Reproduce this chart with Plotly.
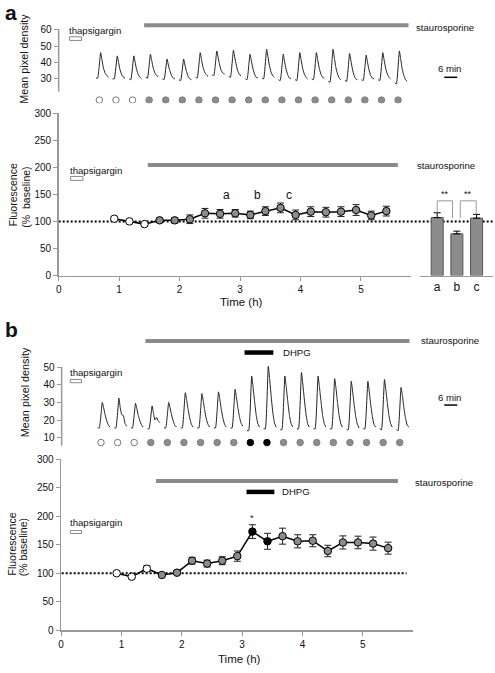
import plotly.graph_objects as go

W, H = 495, 673
def X(px): return px / W
def Y(py): return 1 - py / H

FONT = "Liberation Sans, Arial, sans-serif"

# ---------------- data ----------------
# sampled fractions of each imaging cycle (trace x positions within a cycle)
sample_offsets = [0, 0.1, 0.28, 0.36, 0.45, 0.55, 0.65, 0.75]

# panel a, mean pixel density per cycle
trace_a_cycles = [
    [30.5, 30.5, 46, 41.5, 36.5, 33.5, 32, 31],
    [30, 30, 44, 40, 35.5, 32.5, 31, 30.5],
    [30, 29.5, 44, 40, 35.5, 32.5, 31, 30],
    [31, 30.5, 45, 41, 36.5, 33.5, 32, 31.5],
    [30, 29.5, 42, 38.5, 35, 32, 30.5, 30],
    [29.5, 29, 42, 38.5, 34.5, 31.5, 30, 29.5],
    [31, 30.5, 46, 41.5, 37, 34, 32.5, 31.5],
    [32.5, 32, 47, 43, 38.5, 35, 33.5, 33],
    [31.5, 31, 47.5, 43, 38.5, 34.5, 32.5, 32],
    [30, 29.5, 45, 41, 36.5, 33, 31, 30.5],
    [30.5, 30, 48, 43.5, 38, 34, 32, 31],
    [29.5, 29, 45, 40.5, 36, 32.5, 30.5, 30],
    [29.5, 29, 46, 41.5, 36.5, 33, 31, 30],
    [30, 29.5, 46, 41.5, 36.5, 33, 31, 30.5],
    [28.5, 28, 48, 43, 37, 33, 30.5, 29.5],
    [29, 28.5, 45.5, 41, 36, 32, 30, 29.5],
    [29.5, 29, 44.5, 40, 35.5, 32, 30.5, 30],
    [29.5, 29, 46, 41.5, 36.5, 33, 31, 30],
    [27.5, 27, 47, 42, 36, 32, 29.5, 28.5],
]
# panel b, mean pixel density per cycle
trace_b_cycles = [
    [15.5, 15.5, 30, 27, 23, 19.5, 17, 16],
    [15.5, 15.5, 32.5, 27, 23, 22.5, 18, 16.5],
    [15.5, 15.5, 29.5, 26.5, 22.5, 19.5, 17, 16],
    [15, 15, 28, 24, 20, 21.5, 19.5, 18.5],
    [15.5, 15.5, 30, 27, 23, 19.5, 17, 16],
    [15.5, 15.5, 35.5, 31.5, 26, 21, 17.5, 16],
    [15.5, 15.5, 35, 31, 25.5, 20.5, 17.5, 16],
    [15.5, 15.5, 36, 32, 26, 21, 17.5, 16],
    [15.5, 15.5, 37.5, 33, 27, 21.5, 18, 16.5],
    [14, 14, 45, 39, 31, 23, 18, 16],
    [15, 15, 50.5, 43.5, 34, 24.5, 18.5, 16],
    [14.5, 14.5, 45, 39, 31, 23, 18, 16],
    [15, 15, 47, 40.5, 32, 23.5, 18, 16],
    [15, 15, 45, 39, 31, 23, 18, 16],
    [15, 15, 43.5, 38, 30, 22.5, 18, 16],
    [14.5, 14.5, 42, 36.5, 29, 22, 17.5, 15.5],
    [15, 15, 42, 36.5, 29, 22, 17.5, 16],
    [15, 14.5, 43, 37.5, 30, 22.5, 18, 16],
    [14.5, 14, 38.5, 34, 27, 21, 17, 16],
]
kind_a = ["open"] * 3 + ["gray"] * 16
kind_b = ["open"] * 3 + ["gray"] * 6 + ["black"] * 2 + ["gray"] * 8

time_h = [0.92, 1.17, 1.42, 1.67, 1.92, 2.17, 2.42, 2.67, 2.92, 3.17,
          3.42, 3.67, 3.92, 4.17, 4.42, 4.67, 4.92, 5.17, 5.42]
fluor_a = [105, 100, 95, 102, 102, 104, 115, 114, 115, 112,
           119, 125, 112, 118, 117, 118, 121, 111, 119]
err_a = [2, 2, 2, 4, 5, 8, 9, 8, 7, 7, 8, 9, 9, 9, 9, 9, 10, 8, 9]

bar_labels = ["a", "b", "c"]
bar_vals = [107, 77, 106]
bar_err = [9, 5, 7]

fluor_b = [100, 94, 108, 97, 101, 122, 117, 122, 130, 173,
           156, 165, 156, 157, 139, 154, 154, 152, 144]
err_b = [2, 3, 5, 3, 3, 6, 6, 7, 9, 12, 14, 14, 11.5, 10.5, 10, 11.5, 11, 11.5, 10.5]

# ---------------- figure ----------------
fig = go.Figure()

fill_map = {"open": "white", "gray": "#8c8c8c", "black": "#000000"}
edge_dot = {"open": "#777777", "gray": "#808080", "black": "#000000"}

def trace_xy(cycles):
    xs, ys = [], []
    for i, cyc in enumerate(cycles):
        for off, v in zip(sample_offsets, cyc):
            xs.append(i + off)
            ys.append(v)
        xs.append(None)
        ys.append(None)
    return xs, ys

for cycles, kinds, xa, ya, dot_y in [(trace_a_cycles, kind_a, "x", "y", 17.1),
                                      (trace_b_cycles, kind_b, "x4", "y4", 7.2)]:
    tx, ty = trace_xy(cycles)
    fig.add_trace(go.Scatter(x=tx, y=ty, mode="lines", xaxis=xa, yaxis=ya,
                             line=dict(color="#222", width=1, shape="spline", smoothing=0.4),
                             connectgaps=False, showlegend=False, hoverinfo="skip"))
    fig.add_trace(go.Scatter(x=[i + 0.2 for i in range(len(kinds))], y=[dot_y] * len(kinds),
                             mode="markers", xaxis=xa, yaxis=ya,
                             marker=dict(size=6.5, color=[fill_map[k] for k in kinds],
                                         line=dict(color=[edge_dot[k] for k in kinds], width=1)),
                             showlegend=False, hoverinfo="skip"))

for vals, errs, kinds, xa, ya in [(fluor_a, err_a, kind_a, "x2", "y2"),
                                   (fluor_b, err_b, kind_b, "x5", "y5")]:
    fig.add_trace(go.Scatter(x=time_h, y=vals, mode="lines+markers", xaxis=xa, yaxis=ya,
                             line=dict(color="black", width=1.5),
                             marker=dict(size=7.5, color=[fill_map[k] for k in kinds],
                                         line=dict(color="black", width=1)),
                             error_y=dict(type="data", array=errs, color="#222",
                                          thickness=1, width=3.5),
                             showlegend=False, hoverinfo="skip"))

fig.add_trace(go.Bar(x=[0, 1, 2], y=bar_vals, width=0.61, xaxis="x3", yaxis="y3",
                     marker=dict(color="#8c8c8c", line=dict(color="#555", width=1)),
                     error_y=dict(type="data", array=bar_err, arrayminus=[0, 0, 0],
                                  symmetric=False, color="black", thickness=1, width=3.5),
                     showlegend=False, hoverinfo="skip"))

axcol = "#999999"
tickfont = dict(family=FONT, size=10, color="#111")

def yax(domain, rng, tickvals, anchor, showline):
    return dict(domain=domain, range=rng, tickvals=tickvals, ticks="outside", ticklen=4,
                tickcolor=axcol, tickwidth=1, showline=showline, linecolor=axcol, linewidth=1.5,
                showgrid=False, zeroline=False, anchor=anchor, tickfont=tickfont, fixedrange=True)

def xax(domain, rng, anchor):
    return dict(domain=domain, range=rng, tickvals=[0, 1, 2, 3, 4, 5], ticks="outside", ticklen=4,
                tickcolor=axcol, tickwidth=1, showline=True, linecolor=axcol, linewidth=1.5,
                showgrid=False, zeroline=False, anchor=anchor, tickfont=tickfont, fixedrange=True)

layout = dict(
    width=W, height=H, margin=dict(l=0, r=0, t=0, b=0),
    paper_bgcolor="white", plot_bgcolor="rgba(0,0,0,0)",
    font=dict(family=FONT, color="#111"), showlegend=False, hovermode=False,
    bargap=0,
    xaxis=dict(domain=[X(56), X(410)], range=[-2.25, 18.95], visible=False, anchor="y", fixedrange=True),
    yaxis=yax([Y(100), Y(18)], [15.1, 64.2], [30, 40, 50, 60], "x", False),
    xaxis2=xax([X(56), X(410)], [0, 5.82], "y2"),
    yaxis2=yax([Y(275), Y(110)], [0, 300], [0, 50, 100, 150, 200, 250, 300], "x2", True),
    xaxis3=dict(domain=[X(420), X(493.3)], range=[-0.85, 2.85], tickvals=[0, 1, 2],
                ticktext=bar_labels, ticks="", showline=True, linecolor=axcol, linewidth=1.5,
                showgrid=False, zeroline=False, anchor="y3",
                tickfont=dict(family=FONT, size=12, color="#111"), fixedrange=True),
    yaxis3=dict(domain=[Y(275), Y(110)], range=[0, 300], visible=False, anchor="x3", fixedrange=True),
    xaxis4=dict(domain=[X(59), X(410)], range=[-2.17, 18.85], visible=False, anchor="y4", fixedrange=True),
    yaxis4=yax([Y(452), Y(360)], [3.2, 54.6], [10, 20, 30, 40, 50], "x4", False),
    xaxis5=xax([X(58.5), X(412.7)], [0, 5.835], "y5"),
    yaxis5=yax([Y(635.7), Y(461.7)], [0, 300], [0, 50, 100, 150, 200, 250, 300], "x5", True),
)
fig.update_layout(**layout)

shapes = []
def pline(x0, y0, x1, y1, color, width, dash=None, layer="above"):
    d = dict(type="line", xref="paper", yref="paper", x0=X(x0), y0=Y(y0), x1=X(x1), y1=Y(y1),
             line=dict(color=color, width=width), layer=layer)
    if dash:
        d["line"]["dash"] = dash
    shapes.append(d)

def prect(x0, y0, x1, y1):
    shapes.append(dict(type="rect", xref="paper", yref="paper", x0=X(x0), y0=Y(y0), x1=X(x1), y1=Y(y1),
                       line=dict(color="#888", width=1), fillcolor="white"))

# custom y axis lines for trace panels
pline(56, 24.5, 56, 88, axcol, 1.5)
pline(59, 368, 59, 448, axcol, 1.5)

# treatment bars
stauro = "#8a8a8a"
pline(142, 20.7, 408, 20.7, stauro, 4)
pline(145.7, 162.7, 397.3, 162.7, stauro, 4)
pline(143.3, 341.7, 409, 341.7, stauro, 4)
pline(154, 484, 397.3, 484, stauro, 4)
pline(243, 353.3, 272, 353.3, "black", 4.5)
pline(245, 495, 273, 495, "black", 4.5)

# thapsigargin boxes
prect(67, 32.3, 79, 36)
prect(68, 174.3, 80.5, 178.3)
prect(67.7, 380.7, 79, 384)
prect(67.7, 534.3, 79, 537.3)

# 6 min scale bars
pline(444, 73.5, 457, 73.5, "black", 1.5)
pline(444, 406.7, 457, 406.7, "black", 1.5)

# baseline dotted lines
shapes.append(dict(type="line", xref="paper", yref="y2", x0=X(56), x1=X(493), y0=100, y1=100,
                   line=dict(color="black", width=2, dash="2px,2px"), layer="below"))
shapes.append(dict(type="line", xref="paper", yref="y5", x0=X(59), x1=X(406), y0=100, y1=100,
                   line=dict(color="black", width=2, dash="2px,2px"), layer="below"))

# significance brackets on bar inset
for (xl, xr, yl, yr) in [(0, 0.78, 116, 106), (1.17, 1.98, 106, 113)]:
    for (a0, b0, a1, b1) in [(xl, yl, xl, 138), (xl, 138, xr, 138), (xr, 138, xr, yr)]:
        shapes.append(dict(type="line", xref="x3", yref="y3", x0=a0, y0=b0, x1=a1, y1=b1,
                           line=dict(color="#999", width=1)))

fig.update_layout(shapes=shapes)

ann = []
def ptext(text, x, y, size=9.6, xanchor="left", angle=0, bold=False, color="#111"):
    if bold:
        text = "<b>" + text + "</b>"
    ann.append(dict(text=text, x=X(x), y=Y(y), xref="paper", yref="paper", showarrow=False,
                    xanchor=xanchor, yanchor="middle", textangle=angle,
                    font=dict(family=FONT, size=size, color=color)))

ptext("a", 0, 8, size=21, bold=True)
ptext("b", 0, 330, size=21, bold=True)

ptext("Mean pixel density", 21.7, 55, size=10.8, xanchor="center", angle=-90)
ptext("Mean pixel density", 21.7, 394, size=10.8, xanchor="center", angle=-90)
ptext("Fluorescence", 9.5, 193, size=10.5, xanchor="center", angle=-90)
ptext("(%  baseline)", 23, 195, size=10.5, xanchor="center", angle=-90)
ptext("Fluorescence", 9.5, 548, size=10.5, xanchor="center", angle=-90)
ptext("(% baseline)", 20.5, 551, size=10.5, xanchor="center", angle=-90)

ptext("thapsigargin", 64.5, 26)
ptext("thapsigargin", 65, 168)
ptext("thapsigargin", 65, 373.5)
ptext("thapsigargin", 65, 526.5)

ptext("staurosporine", 414, 23)
ptext("staurosporine", 414.5, 163)
ptext("staurosporine", 419, 341.5)
ptext("staurosporine", 413, 485)

ptext("DHPG", 280, 353.5)
ptext("DHPG", 279, 495)

ptext("6 min", 449, 65, xanchor="center")
ptext("6 min", 449, 399, xanchor="center")

ptext("Time (h)", 240, 302, size=11.5, xanchor="center")
ptext("Time (h)", 238, 665, size=11.5, xanchor="center")

for lab, x in zip(["a", "b", "c"], [225, 256, 287.7]):
    ptext(lab, x, 193, size=12, xanchor="center")

ptext("**", 444.5, 192, size=9, xanchor="center")
ptext("**", 468, 192, size=9, xanchor="center")

ann.append(dict(text="*", x=3.17, y=197, xref="x5", yref="y5", showarrow=False,
                xanchor="center", yanchor="middle", font=dict(family=FONT, size=9, color="#111")))

fig.update_layout(annotations=ann)

fig.write_html("out.html", config={"displayModeBar": False, "staticPlot": True},
               post_script="document.body.style.margin='0';document.body.style.overflow='hidden';")
